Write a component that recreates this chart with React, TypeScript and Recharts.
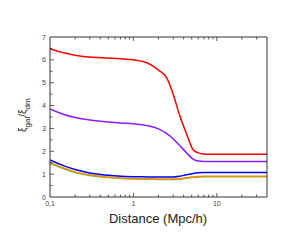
import React from "react";
import { LineChart, Line, XAxis, YAxis } from "recharts";

const distances = [0.1, 0.15, 0.2, 0.3, 0.5, 0.7, 1, 1.5, 2, 2.5, 3, 3.6, 4.3, 5.2, 6, 7, 8, 10, 15, 20, 30, 40];
const redSeries = [6.48, 6.3, 6.2, 6.12, 6.08, 6.05, 6.0, 5.85, 5.55, 5.22, 4.5, 3.55, 2.8, 2.07, 1.93, 1.88, 1.87, 1.87, 1.87, 1.87, 1.87, 1.87];
const purpleSeries = [3.85, 3.6, 3.48, 3.37, 3.28, 3.24, 3.2, 3.12, 2.98, 2.78, 2.55, 2.25, 1.95, 1.66, 1.57, 1.55, 1.55, 1.55, 1.55, 1.55, 1.55, 1.55];
const blueSeries = [1.62, 1.35, 1.2, 1.05, 0.95, 0.91, 0.89, 0.88, 0.87, 0.87, 0.88, 0.91, 0.97, 1.03, 1.06, 1.07, 1.07, 1.07, 1.07, 1.07, 1.07, 1.07];
const orangeSeries = [1.5, 1.25, 1.1, 0.97, 0.87, 0.83, 0.81, 0.8, 0.79, 0.79, 0.79, 0.8, 0.84, 0.88, 0.9, 0.91, 0.91, 0.91, 0.91, 0.91, 0.91, 0.91];
const greenSeries = [1.47, 1.22, 1.07, 0.94, 0.85, 0.81, 0.79, 0.78, 0.77, 0.77, 0.77, 0.78, 0.82, 0.86, 0.88, 0.89, 0.89, 0.89, 0.89, 0.89, 0.89, 0.89];

const xMajor = [0.1, 1, 10];
const xTicks = [0.1, 0.2, 0.3, 0.4, 0.5, 0.6, 0.7, 0.8, 0.9, 1, 2, 3, 4, 5, 6, 7, 8, 9, 10, 20, 30, 40];
const yTicks = [0, 0.5, 1, 1.5, 2, 2.5, 3, 3.5, 4, 4.5, 5, 5.5, 6, 6.5, 7];

const data = distances.map((d, i) => ({
  d,
  red: redSeries[i],
  purple: purpleSeries[i],
  blue: blueSeries[i],
  orange: orangeSeries[i],
  green: greenSeries[i],
}));

const axisColor = "#333";
const font = "Liberation Sans, Arial, sans-serif";

const fmtX = (v: number) => String(v).replace(".", ",");

function BottomTick(props: any) {
  const { x, y, payload } = props;
  const major = xMajor.includes(payload.value);
  return (
    <g>
      {payload.value !== 0.1 && payload.value !== 40 && (
        <line x1={x} x2={x} y1={y} y2={y - (major ? 4 : 2.5)} stroke={axisColor} strokeWidth={0.8} />
      )}
      {major && (
        <text x={x} y={y + 9} textAnchor="middle" fontSize={7} fill="#444" fontFamily={font}>
          {fmtX(payload.value)}
        </text>
      )}
    </g>
  );
}

function TopTick(props: any) {
  const { x, y, payload } = props;
  const major = xMajor.includes(payload.value);
  if (payload.value === 0.1 || payload.value === 40) return null;
  return <line x1={x} x2={x} y1={y} y2={y + (major ? 4 : 2.5)} stroke={axisColor} strokeWidth={0.8} />;
}

function LeftTick(props: any) {
  const { x, y, payload } = props;
  const major = Number.isInteger(payload.value);
  return (
    <g>
      {payload.value !== 0 && payload.value !== 7 && (
        <line x1={x} x2={x + (major ? 4 : 2.5)} y1={y} y2={y} stroke={axisColor} strokeWidth={0.8} />
      )}
      {major && (
        <text x={x - 4} y={y + 2.5} textAnchor="end" fontSize={7} fill="#444" fontFamily={font}>
          {payload.value}
        </text>
      )}
    </g>
  );
}

function RightTick(props: any) {
  const { x, y, payload } = props;
  const major = Number.isInteger(payload.value);
  if (payload.value === 0 || payload.value === 7) return null;
  return <line x1={x} x2={x - (major ? 4 : 2.5)} y1={y} y2={y} stroke={axisColor} strokeWidth={0.8} />;
}

export default function App() {
  return (
    <div style={{ position: "absolute", left: 0, top: 0, width: 303, height: 242, background: "#fff" }}>
      <LineChart width={303} height={242} data={data} margin={{ top: 36, right: 35, bottom: 44, left: 49 }}>
        <XAxis
          xAxisId="b"
          dataKey="d"
          type="number"
          scale="log"
          domain={[0.1, 40]}
          allowDataOverflow
          ticks={xTicks}
          interval={0}
          height={1}
          tickSize={0}
          tickMargin={0}
          tickLine={false}
          tick={<BottomTick />}
          axisLine={{ stroke: axisColor, strokeWidth: 1 }}
        />
        <XAxis
          xAxisId="t"
          orientation="top"
          dataKey="d"
          type="number"
          scale="log"
          domain={[0.1, 40]}
          allowDataOverflow
          ticks={xTicks}
          interval={0}
          height={1}
          tickSize={0}
          tickMargin={0}
          tickLine={false}
          tick={<TopTick />}
          axisLine={{ stroke: axisColor, strokeWidth: 1 }}
        />
        <YAxis
          yAxisId="l"
          type="number"
          domain={[0, 7]}
          ticks={yTicks}
          interval={0}
          width={1}
          tickSize={0}
          tickMargin={0}
          tickLine={false}
          tick={<LeftTick />}
          axisLine={{ stroke: axisColor, strokeWidth: 1 }}
        />
        <YAxis
          yAxisId="r"
          orientation="right"
          type="number"
          domain={[0, 7]}
          ticks={yTicks}
          interval={0}
          width={1}
          tickSize={0}
          tickMargin={0}
          tickLine={false}
          tick={<RightTick />}
          axisLine={{ stroke: axisColor, strokeWidth: 1 }}
        />
        <Line xAxisId="b" yAxisId="l" dataKey="green" type="monotone" stroke="#66bb44" strokeWidth={1.5} dot={false} isAnimationActive={false} />
        <Line xAxisId="b" yAxisId="l" dataKey="orange" type="monotone" stroke="#ff8c00" strokeWidth={1.5} dot={false} isAnimationActive={false} />
        <Line xAxisId="b" yAxisId="l" dataKey="blue" type="monotone" stroke="#0000ff" strokeWidth={1.5} dot={false} isAnimationActive={false} />
        <Line xAxisId="b" yAxisId="l" dataKey="purple" type="monotone" stroke="#8a1cff" strokeWidth={1.5} dot={false} isAnimationActive={false} />
        <Line xAxisId="b" yAxisId="l" dataKey="red" type="monotone" stroke="#ff0000" strokeWidth={1.5} dot={false} isAnimationActive={false} />
      </LineChart>
      <svg width={303} height={242} style={{ position: "absolute", left: 0, top: 0, pointerEvents: "none" }}>
        <text x={158} y={223} textAnchor="middle" fontSize={13} fill="#222" fontFamily={font}>
          Distance (Mpc/h)
        </text>
        <text transform="translate(26,132) rotate(-90)" fontSize={10} fill="#222" fontFamily={font}>
          ξ<tspan fontSize={8} dy={3.5}>gal</tspan>
          <tspan dy={-3.5}>/ξ</tspan>
          <tspan fontSize={8} dy={3.5}>dm</tspan>
        </text>
      </svg>
    </div>
  );
}
